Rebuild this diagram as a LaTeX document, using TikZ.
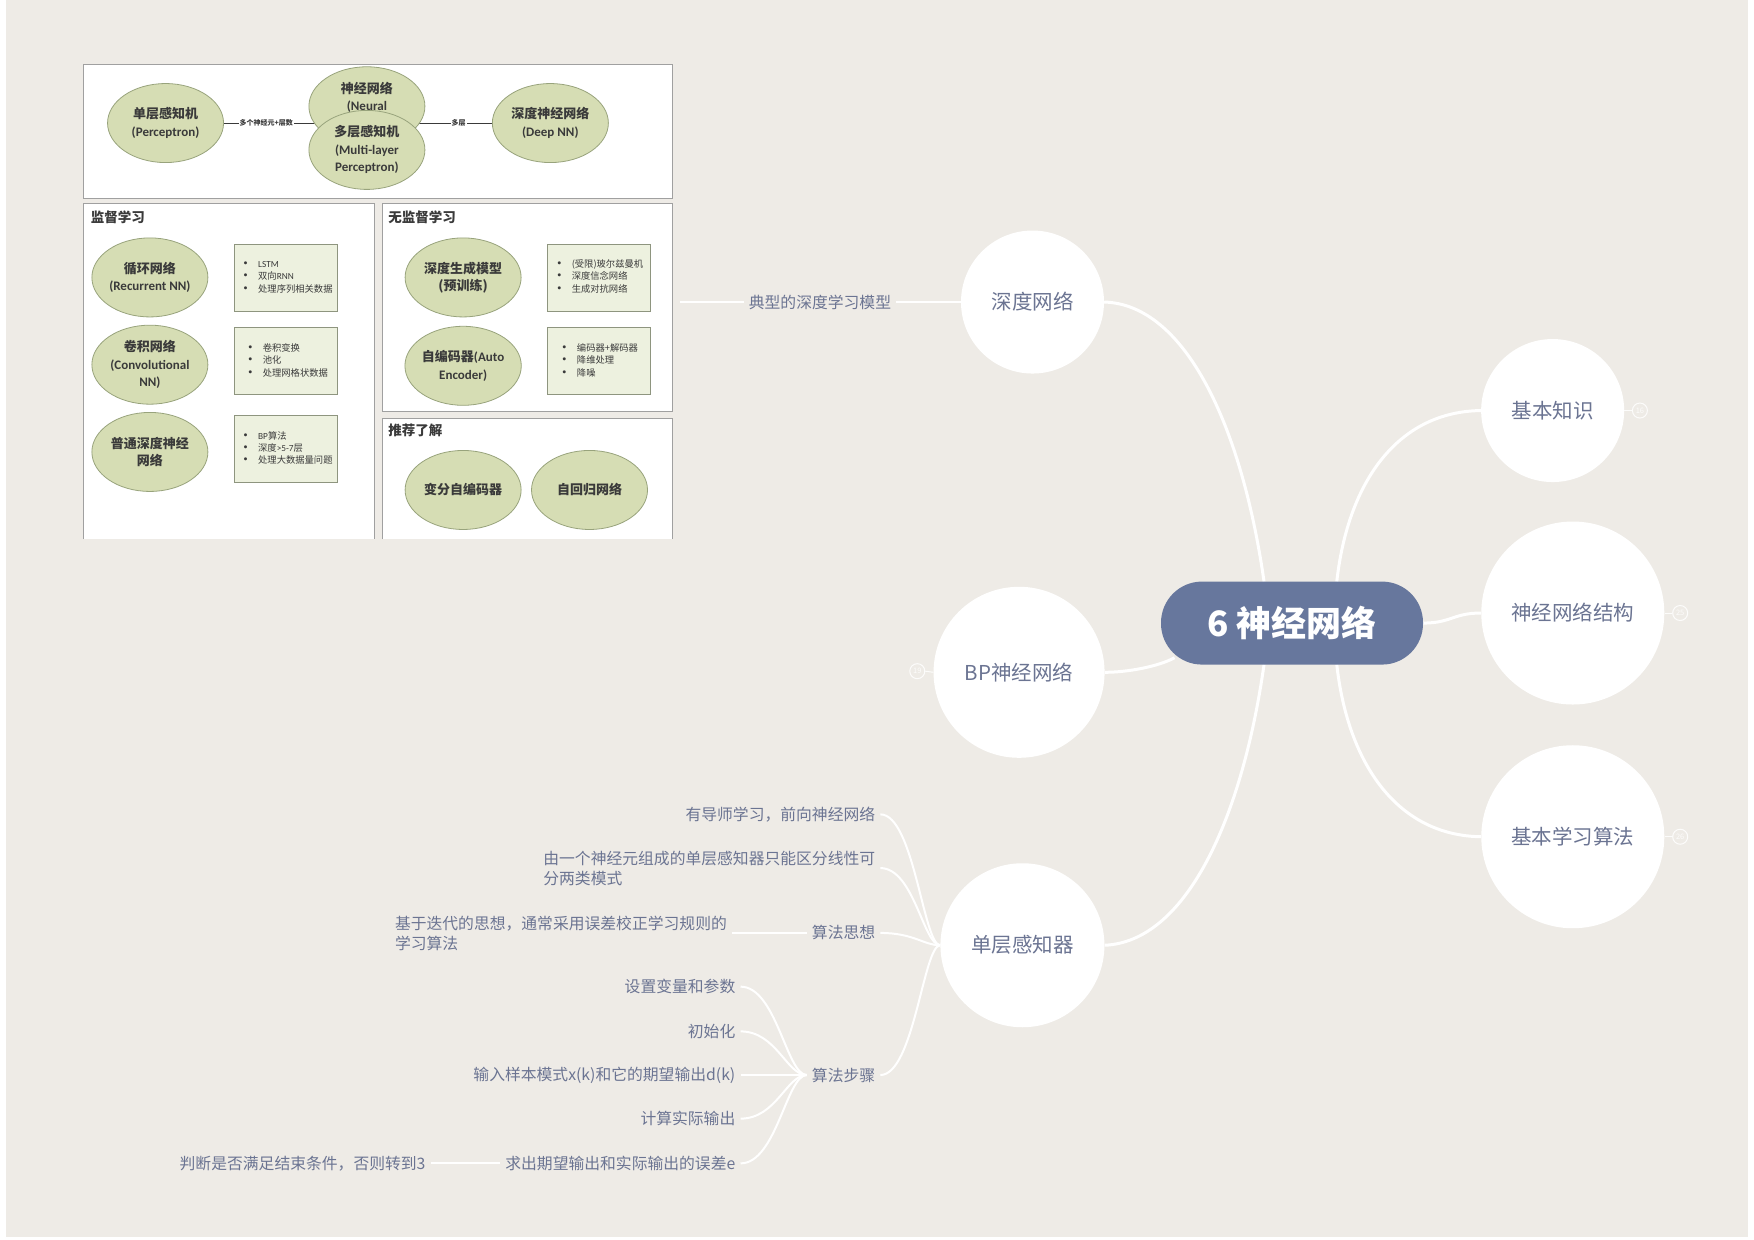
\documentclass[tikz,border=0pt]{standalone}
\usepackage{fontspec}
\setmainfont{Noto Sans CJK SC}
\newfontfamily\carl{Carlito}
\newcommand\lat[1]{{\carl\bfseries #1}}
\newcommand\bul{{\bfseries\fontsize{11}{11}\selectfont •}}
\usetikzlibrary{shapes.geometric,calc}
\pgfdeclarelayer{back}
\pgfdeclarelayer{bg}
\pgfsetlayers{back,bg,main}
\definecolor{pagebg}{HTML}{EEEBE6}
\definecolor{txt}{HTML}{6B7492}
\definecolor{central}{HTML}{67779D}
\definecolor{ellfill}{HTML}{D6DDB4}
\definecolor{elldraw}{HTML}{98A37C}
\definecolor{listfill}{HTML}{EDF1DF}
\definecolor{listdraw}{HTML}{8E957F}
\definecolor{panelline}{HTML}{A0A0A0}
\definecolor{dark}{HTML}{3A3A3A}
\begin{document}
\begin{tikzpicture}[x=1.1186pt,y=-1.1186pt,
  topic/.style={circle,fill=white,text=txt,inner sep=0pt,font=\fontsize{20.5}{25}\selectfont},
  centralnode/.style={rectangle,rounded corners=41pt,fill=central,text=white,minimum width=262pt,minimum height=83pt,inner sep=0pt,font=\bfseries\fontsize{35}{40}\selectfont},
  num/.style={circle,draw=white,line width=1pt,text=white,inner sep=0pt,minimum size=15pt,font=\fontsize{7.5}{8}\selectfont,opacity=0.85},
  sub/.style={text=txt,inner xsep=5pt,inner ysep=1pt,font=\fontsize{15.8}{20}\selectfont},
  conn/.style={draw=white,line width=3pt},
  subconn/.style={draw=white,line width=2pt},
  ell/.style={ellipse,fill=ellfill,draw=elldraw,line width=0.8pt,minimum width=116pt,minimum height=79pt,inner sep=0pt,align=center,text=dark,font=\bfseries\fontsize{13}{17.5}\selectfont},
  listbox/.style={rectangle,fill=listfill,draw=listdraw,line width=0.8pt,minimum width=103pt,minimum height=67pt,inner sep=0pt,text=dark,font=\fontsize{9.3}{12.3}\selectfont},
  panel/.style={fill=white,draw=panelline,line width=1pt},
  seclabel/.style={anchor=west,inner sep=0pt,text=dark,font=\bfseries\fontsize{13.5}{16}\selectfont},
  elab/.style={fill=white,inner sep=1pt,text=dark,font=\bfseries\fontsize{7}{8}\selectfont}
]
\useasboundingbox (0,0) rectangle (1568,1108);
\begin{pgfonlayer}{back}
\fill[white] (0,0) rectangle (1568,1108);
\fill[pagebg] (5,0) rectangle (1563,1106);
% embedded picture panels
\draw[panel] (75,58) rectangle (601,177);
\fill[white] (75,182) rectangle (335,482);
\draw[panelline,line width=1pt] (75,482) -- (75,182) -- (335,182) -- (335,482);
\draw[panel] (342,182) rectangle (601,368);
\fill[white] (342,374) rectangle (601,482);
\draw[panelline,line width=1pt] (342,482) -- (342,374) -- (601,374) -- (601,482);
\end{pgfonlayer}

% ---- embedded picture content ----
\node[ell] (perc) at (148,110) {单层感知机\\\lat{(Perceptron)}};
\node[ell] (nn) at (328,95) {\raisebox{-3pt}{神经网络}\\\raisebox{-3pt}{\lat{(Neural}}\\\strut};
\node[ell] (mlp) at (328,134) {多层感知机\\\lat{(Multi-layer}\\\lat{Perceptron)}};
\node[ell] (dnn) at (492,110) {深度神经网络\\\lat{(Deep NN)}};
\begin{pgfonlayer}{bg}
\draw[dark,line width=0.7pt] (perc.east) -- node[elab]{多个神经元+层数} (perc.east -| nn.west) -- (perc.east -| nn.center);
\draw[dark,line width=0.7pt] (dnn.west) -- node[elab]{多层} (dnn.west -| mlp.east) -- (dnn.west -| mlp.center);
\end{pgfonlayer}

\node[seclabel] (sup) at (81,194) {监督学习};
\node[seclabel] (unsup) at (347,194) {无监督学习};
\node[seclabel] (rec) at (347,385) {推荐了解};

\node[ell] (rnn) at (134,248) {循环网络\\\lat{(Recurrent NN)}};
\node[ell] (cnn) at (134,326) {卷积网络\\\lat{(Convolutional}\\\lat{NN)}};
\node[ell] (pdnn) at (134,404) {普通深度神经\\网络};
\node[listbox] (r1) at (256,248) {\begin{tabular}{@{}l@{\hspace{7pt}}l@{}}\bul&{\carl LSTM}\\\bul&双向{\carl RNN}\\\bul&处理序列相关数据\end{tabular}};
\node[listbox] (r2) at (256,323) {\begin{tabular}{@{}l@{\hspace{7pt}}l@{}}\bul&卷积变换\\\bul&池化\\\bul&处理网格状数据\end{tabular}};
\node[listbox] (r3) at (256,401.5) {\begin{tabular}{@{}l@{\hspace{7pt}}l@{}}\bul&{\carl BP}算法\\\bul&深度{\carl >5-7}层\\\bul&处理大数据量问题\end{tabular}};

\node[ell] (gen) at (414,248) {深度生成模型\\(预训练)};
\node[ell] (ae) at (414,327) {自编码器\lat{(Auto}\\\lat{Encoder)}};
\node[listbox] (u1) at (535,248) {\begin{tabular}{@{}l@{\hspace{7pt}}l@{}}\bul&(受限)玻尔兹曼机\\\bul&深度信念网络\\\bul&生成对抗网络\end{tabular}};
\node[listbox] (u2) at (535,323) {\begin{tabular}{@{}l@{\hspace{7pt}}l@{}}\bul&编码器+解码器\\\bul&降维处理\\\bul&降噪\end{tabular}};
\node[ell] (vae) at (414,438) {变分自编码器};
\node[ell] (arn) at (527,438) {自回归网络};

% ---- mind map ----
\node[centralnode] (c) at (1155,557) {6 神经网络};
\node[topic,minimum size=143pt] (dn) at (923,270) {深度网络};
\node[topic,minimum size=143pt] (jb) at (1388,367) {基本知识};
\node[topic,minimum size=183pt] (jg) at (1406,548) {神经网络结构};
\node[topic,minimum size=183pt] (xx) at (1406,748) {基本学习算法};
\node[topic,minimum size=171pt] (bp) at (911,601) {BP神经网络};
\node[topic,minimum size=164pt] (sp) at (914,845) {单层感知器};

\node[num] (n16) at (1466,367) {16};
\node[num] (n25) at (1502,548) {25};
\node[num] (n26) at (1502,748) {26};
\node[num] (n19) at (820,600) {19};
\draw[white,line width=1pt,opacity=0.85] (jb.east) -- (n16.west);
\draw[white,line width=1pt,opacity=0.85] (jg.east) -- (n25.west);
\draw[white,line width=1pt,opacity=0.85] (xx.east) -- (n26.west);
\draw[white,line width=1pt,opacity=0.85] (bp.west) -- (n19.east);

\begin{pgfonlayer}{bg}
\draw[conn] ($(c.center)+(-25,-37)$) .. controls ($(c.center)+(-45,-177)$) and ($(dn.east)+(72,2)$) .. (dn.east);
\draw[conn] ($(c.center)+(-25,37)$) .. controls ($(c.center)+(-45,177)$) and ($(sp.east)+(72,-3)$) .. (sp.east);
\draw[conn] ($(c.center)+(40,-37)$) .. controls ($(c.center)+(50,-127)$) and ($(jb.west)+(-74,1)$) .. (jb.west);
\draw[conn] ($(c.center)+(40,37)$) .. controls ($(c.center)+(50,127)$) and ($(xx.west)+(-74,-1)$) .. (xx.west);
\draw[conn] (c.east) .. controls +(25,0) and +(-25,0) .. (jg.west);
\draw[conn] ($(c.center)+(-105,31)$) .. controls +(-15,8) and +(20,0) .. (bp.east);
\end{pgfonlayer}

\node[sub] (typ) at (733,270) {典型的深度学习模型};
\coordinate (imgR) at (608,270);
\draw[subconn] (dn.west) -- (typ.east);
\draw[subconn] (typ.west) -- (imgR);

\node[sub,anchor=east] (s1) at (787,728) {有导师学习，前向神经网络};
\node[sub,anchor=east,align=left] (s2) at (787,776) {由一个神经元组成的单层感知器只能区分线性可\\分两类模式};
\node[sub,anchor=east] (s3) at (787,834) {算法思想};
\node[sub,anchor=west,align=left] (s3a) at (348.5,834) {基于迭代的思想，通常采用误差校正学习规则的\\学习算法};
\node[sub,anchor=east] (s4) at (787,961) {算法步骤};
\node[sub,anchor=east] (t1) at (662,882) {设置变量和参数};
\node[sub,anchor=east] (t2) at (662,922) {初始化};
\node[sub,anchor=east] (t3) at (662,961) {输入样本模式x(k)和它的期望输出d(k)};
\node[sub,anchor=east] (t4) at (662,1000) {计算实际输出};
\node[sub,anchor=east] (t5) at (662,1040) {求出期望输出和实际输出的误差e};
\node[sub,anchor=east] (t5a) at (385,1040) {判断是否满足结束条件，否则转到3};

\foreach \s in {s1,s2,s3,s4}
  \draw[subconn] (sp.west) .. controls +(-15,0) and +(30,0) .. (\s.east);
\foreach \t in {t1,t2,t3,t4,t5}
  \draw[subconn] (s4.west) .. controls +(-18,0) and +(32,0) .. (\t.east);
\draw[subconn] (s3.west) -- (s3a.east);
\draw[subconn] (t5.west) -- (t5a.east);
\end{tikzpicture}
\end{document}
